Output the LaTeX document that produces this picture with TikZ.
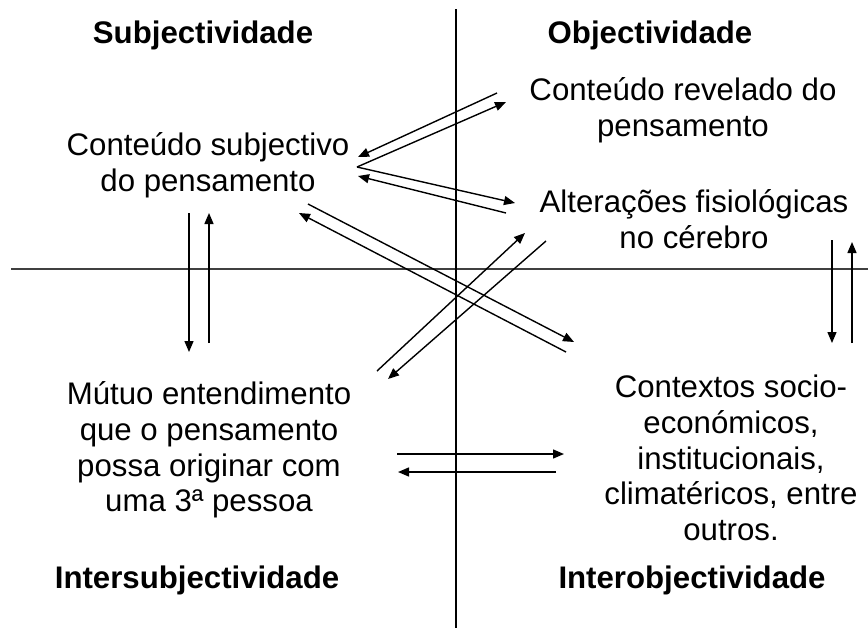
\documentclass[tikz,border=0pt]{standalone}
\usepackage{fontspec}
\setmainfont{Liberation Sans}
\usetikzlibrary{arrows.meta}
\begin{document}
\begin{tikzpicture}[x=0.5pt,y=-0.5pt,
  lbl/.style={inner sep=0pt, align=center, font=\fontsize{15.6}{17.8}\selectfont},
  head/.style={lbl, font=\fontsize{15.6}{17.8}\selectfont\bfseries},
  axisline/.style={line width=0.8pt},
  arr/.style={line width=0.7pt, -{Triangle[length=5.5pt,width=4.5pt]}}]
\useasboundingbox (0,0) rectangle (868,628);
% axes
\coordinate (vt) at (456,9);
\coordinate (vb) at (456,628);
\coordinate (hl) at (11,269);
\coordinate (hr) at (868,269);
\draw[axisline, black!75] (hl) -- (hr);
\draw[axisline] (vt) -- (vb);
% texts
\node[head] (subj) at (203,35) {Subjectividade};
\node[head] (obj) at (650,35) {Objectividade};
\node[head] (inters) at (197,580) {Intersubjectividade};
\node[head] (intero) at (692,580) {Interobjectividade};
\node[lbl] (cs) at (208,165) {Conteúdo subjectivo\\do pensamento};
\node[lbl] (cr) at (683,110) {Conteúdo revelado do\\pensamento};
\node[lbl] (af) at (694,219) {Alterações fisiológicas\\no cérebro};
\node[lbl] (me) at (209,450) {Mútuo entendimento\\que o pensamento\\possa originar com\\uma 3ª pessoa};
\node[lbl] (ct) at (731,458) {Contextos socio-\\económicos,\\institucionais,\\climatéricos, entre\\outros.};
% arrow end points
\coordinate (a1s) at (497,93);  \coordinate (a1e) at (358,157);
\coordinate (a2s) at (357,167); \coordinate (a2e) at (506,102);
\coordinate (a3e) at (515,203);
\coordinate (a4s) at (506,213); \coordinate (a4e) at (358,176);
\coordinate (v1s) at (189,213); \coordinate (v1e) at (189,352);
\coordinate (v2s) at (209,343); \coordinate (v2e) at (209,213);
\coordinate (r1s) at (832,240); \coordinate (r1e) at (832,343);
\coordinate (r2s) at (852,343); \coordinate (r2e) at (852,242);
\coordinate (dAs) at (308,204); \coordinate (dAe) at (574,342);
\coordinate (dBs) at (566,352); \coordinate (dBe) at (299,213);
\coordinate (dCs) at (377,371); \coordinate (dCe) at (525,233);
\coordinate (dDs) at (546,241); \coordinate (dDe) at (388,379);
\coordinate (h1s) at (397,454); \coordinate (h1e) at (564,454);
\coordinate (h2s) at (556,472); \coordinate (h2e) at (398,472);
% arrows
\draw[arr] (a1s) -- (a1e);
\draw[arr] (a2s) -- (a2e);
\draw[arr] (a2s) -- (a3e);
\draw[arr] (a4s) -- (a4e);
\draw[arr] (v1s) -- (v1e);
\draw[arr] (v2s) -- (v2e);
\draw[arr] (r1s) -- (r1e);
\draw[arr] (r2s) -- (r2e);
\draw[arr] (dAs) -- (dAe);
\draw[arr] (dBs) -- (dBe);
\draw[arr] (dCs) -- (dCe);
\draw[arr] (dDs) -- (dDe);
\draw[arr] (h1s) -- (h1e);
\draw[arr] (h2s) -- (h2e);
\end{tikzpicture}
\end{document}
